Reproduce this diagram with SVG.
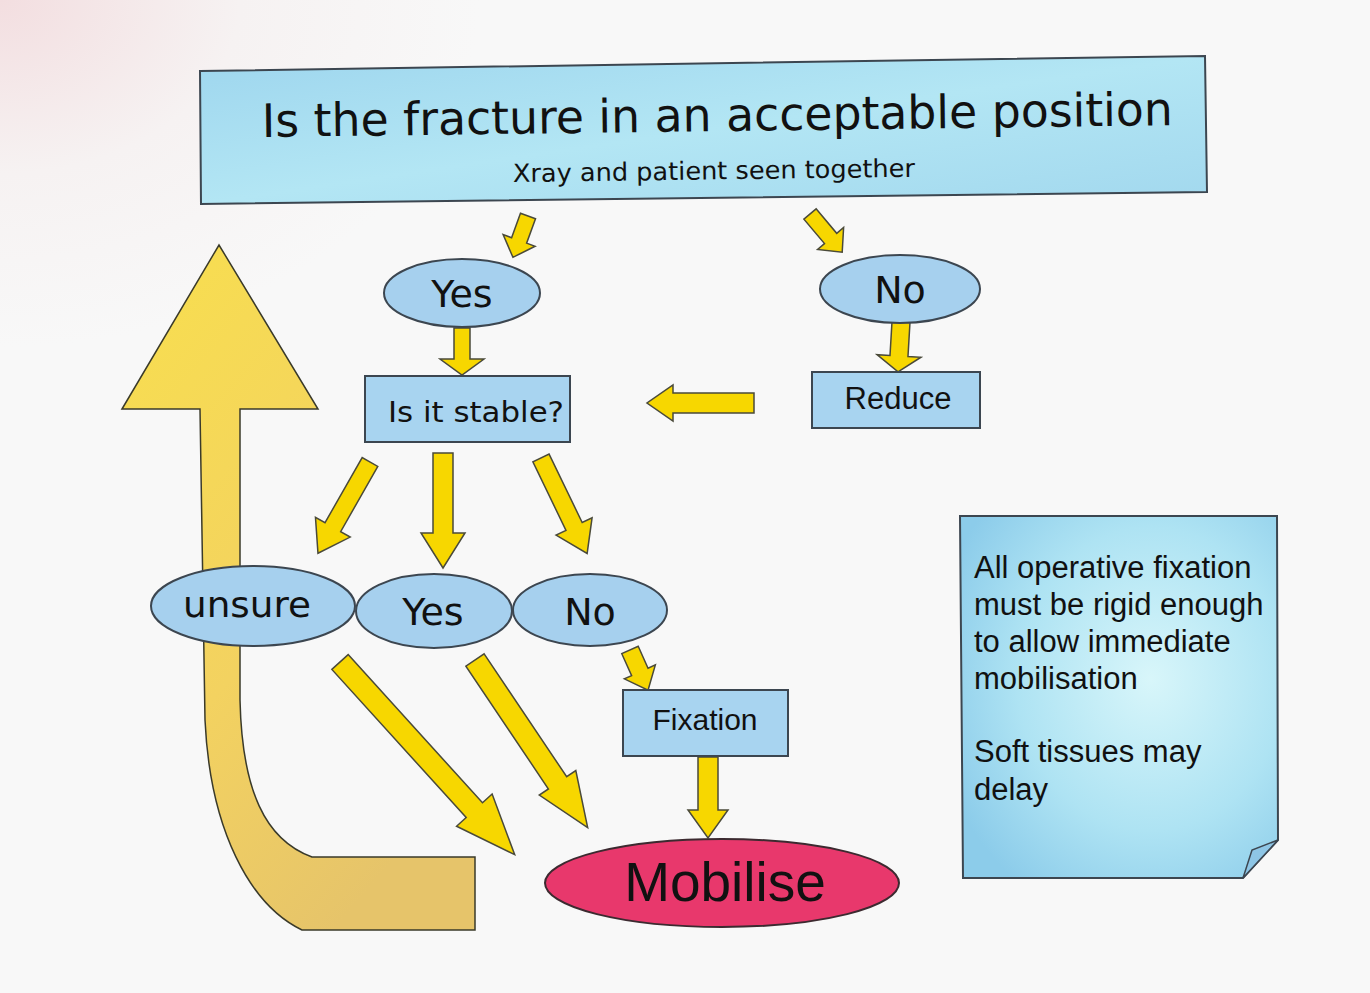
<svg xmlns="http://www.w3.org/2000/svg" width="1370" height="993" viewBox="0 0 1370 993">
<defs>
<linearGradient id="gTop" x1="0" y1="0" x2="1" y2="1">
<stop offset="0" stop-color="#9ED6EE"/><stop offset="0.5" stop-color="#B3E6F4"/><stop offset="1" stop-color="#A2D8EE"/>
</linearGradient>
<radialGradient id="gNote" cx="0.6" cy="0.45" r="0.7">
<stop offset="0" stop-color="#D8F6FA"/><stop offset="0.6" stop-color="#AEE3F3"/><stop offset="1" stop-color="#8CCCEA"/>
</radialGradient>
<linearGradient id="gBig" x1="0" y1="0" x2="0.6" y2="1">
<stop offset="0" stop-color="#F8DF4E"/><stop offset="0.6" stop-color="#F3D260"/><stop offset="1" stop-color="#E6C46A"/>
</linearGradient>
<radialGradient id="gBg" cx="0" cy="0" r="0.35">
<stop offset="0" stop-color="#F3DEE0"/><stop offset="0.5" stop-color="#F6F2F2"/><stop offset="1" stop-color="#F8F8F8"/>
</radialGradient>
</defs>
<style>
.box{fill:#A8D4F0;stroke:#3C4650;stroke-width:2}
.ell{fill:#A6D0EE;stroke:#3C4650;stroke-width:2}
.arr{fill:#F7D700;stroke:#4A4A3A;stroke-width:1.5;stroke-linejoin:miter}
.comic{font-family:"DejaVu Sans",sans-serif;fill:#111}
.arial{font-family:"Liberation Sans",Arial,sans-serif;fill:#111}
</style>
<rect x="0" y="0" width="1370" height="993" fill="url(#gBg)"/>

<g id="loop-arrow">
<path d="M122,409 L219,245 L318,409 L240,409 L240,700 C242,790 265,840 312,857 L475,857 L475,930 L302,930 C250,905 210,830 205,720 L200,409 Z" fill="url(#gBig)" stroke="#3A3A2A" stroke-width="1.5"/>
</g>

<g id="connectors">
<path class="arr" transform="translate(528,216) rotate(110)" d="M0,-8 L26,-8 L26,-17 L44,0 L26,17 L26,8 L0,8 Z"/>
<path class="arr" transform="translate(810,214) rotate(49.9)" d="M0,-8 L32,-8 L32,-17 L50,0 L32,17 L32,8 L0,8 Z"/>
<path class="arr" transform="translate(462,328) rotate(90)" d="M0,-8 L31,-8 L31,-22 L47,0 L31,22 L31,8 L0,8 Z"/>
<path class="arr" transform="translate(901,322) rotate(93.4)" d="M0,-9 L34,-9 L34,-22 L50,0 L34,22 L34,9 L0,9 Z"/>
<path class="arr" transform="translate(754,403) rotate(180)" d="M0,-10 L81,-10 L81,-18 L107,0 L81,18 L81,10 L0,10 Z"/>
<path class="arr" transform="translate(370,462) rotate(119.7)" d="M0,-9 L75,-9 L75,-20 L105,0 L75,20 L75,9 L0,9 Z"/>
<path class="arr" transform="translate(443,453) rotate(90)" d="M0,-10 L80,-10 L80,-22 L115,0 L80,22 L80,10 L0,10 Z"/>
<path class="arr" transform="translate(541,458) rotate(64.2)" d="M0,-9 L76,-9 L76,-20 L106,0 L76,20 L76,9 L0,9 Z"/>
<path class="arr" transform="translate(340,662) rotate(47.8)" d="M0,-11 L200,-11 L200,-24 L260,0 L200,24 L200,11 L0,11 Z"/>
<path class="arr" transform="translate(475,660) rotate(56.1)" d="M0,-11 L148,-11 L148,-22 L202,0 L148,22 L148,11 L0,11 Z"/>
<path class="arr" transform="translate(630,650) rotate(65.8)" d="M0,-9 L24,-9 L24,-17 L44,0 L24,17 L24,9 L0,9 Z"/>
<path class="arr" transform="translate(708,757) rotate(90)" d="M0,-10 L53,-10 L53,-20 L81,0 L53,20 L53,10 L0,10 Z"/>
</g>

<g id="question">
<polygon points="200,71 1205,56 1207,192 201,204" fill="url(#gTop)" stroke="#3C4650" stroke-width="2"/>
<text class="comic" x="262" y="137" font-size="46" textLength="911" lengthAdjust="spacingAndGlyphs" transform="rotate(-0.75 262 137)">Is the fracture in an acceptable position</text>
<text class="comic" x="513" y="182" font-size="25" textLength="402" lengthAdjust="spacingAndGlyphs" transform="rotate(-0.75 513 182)">Xray and patient seen together</text>
</g>

<g id="yes1">
<ellipse class="ell" cx="462" cy="293" rx="78" ry="34"/>
<text class="comic" x="462" y="307" font-size="38" text-anchor="middle">Yes</text>
</g>

<g id="no1">
<ellipse class="ell" cx="900" cy="289" rx="80" ry="34"/>
<text class="comic" x="900" y="303" font-size="38" text-anchor="middle">No</text>
</g>

<g id="stable">
<rect class="box" x="365" y="376" width="205" height="66"/>
<text class="comic" x="476" y="422" font-size="28" text-anchor="middle" textLength="176" lengthAdjust="spacingAndGlyphs">Is it stable?</text>
</g>

<g id="reduce">
<rect class="box" x="812" y="372" width="168" height="56"/>
<text class="arial" x="898" y="409" font-size="31" text-anchor="middle">Reduce</text>
</g>

<g id="unsure">
<ellipse class="ell" cx="253" cy="606" rx="102" ry="40"/>
<text class="comic" x="247" y="617" font-size="36" text-anchor="middle" textLength="128" lengthAdjust="spacingAndGlyphs">unsure</text>
</g>

<g id="yes2">
<ellipse class="ell" cx="434" cy="611" rx="78" ry="37"/>
<text class="comic" x="433" y="625" font-size="38" text-anchor="middle">Yes</text>
</g>

<g id="no2">
<ellipse class="ell" cx="590" cy="610" rx="77" ry="36"/>
<text class="comic" x="590" y="625" font-size="38" text-anchor="middle">No</text>
</g>

<g id="fixation">
<rect class="box" x="623" y="690" width="165" height="66"/>
<text class="arial" x="705" y="730" font-size="30" text-anchor="middle">Fixation</text>
</g>

<g id="mobilise">
<ellipse cx="722" cy="883" rx="177" ry="44" fill="#E8386C" stroke="#3C2A30" stroke-width="2"/>
<text class="arial" x="725" y="901" font-size="55" text-anchor="middle">Mobilise</text>
</g>

<g id="note">
<path d="M960,516 L1277,516 L1278,840 L1243,878 L963,878 Z" fill="url(#gNote)" stroke="#3C4650" stroke-width="2"/>
<path d="M1243,878 L1278,840 L1252,850 Z" fill="#8EC6E6" stroke="#3C4650" stroke-width="1.5"/>
<text class="arial" font-size="31">
<tspan x="974" y="578">All operative fixation</tspan>
<tspan x="974" y="615">must be rigid enough</tspan>
<tspan x="974" y="652">to allow immediate</tspan>
<tspan x="974" y="689">mobilisation</tspan>
<tspan x="974" y="762">Soft tissues may</tspan>
<tspan x="974" y="800">delay</tspan>
</text>
</g>
</svg>
